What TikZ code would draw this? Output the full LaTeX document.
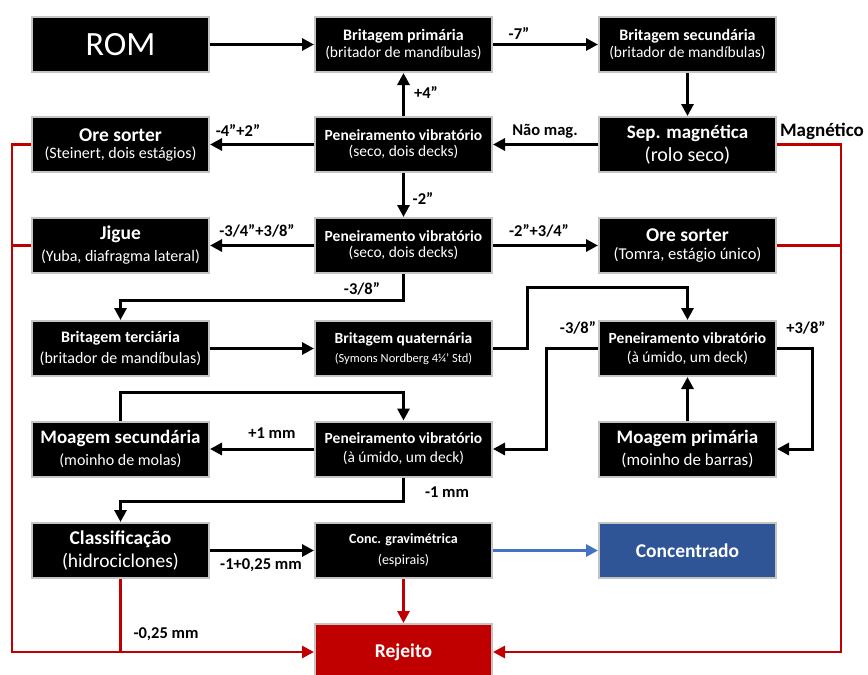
\documentclass[tikz,border=0pt]{standalone}
\usepackage{fontspec}
\setmainfont{Carlito}
\usetikzlibrary{arrows.meta}
\definecolor{boxgray}{HTML}{C4C4C4}
\definecolor{rejc}{HTML}{C00000}
\definecolor{concc}{HTML}{2F5597}
\definecolor{bluc}{HTML}{4472C4}
\newcommand{\ttl}[2]{\fontsize{#1}{#1}\selectfont\bfseries #2}
\newcommand{\sbt}[2]{\fontsize{#1}{#1}\selectfont\mdseries #2}
\begin{document}
\begin{tikzpicture}[x=1pt,y=-1pt,
 box/.style={draw=boxgray, line width=2pt, fill=black, text=white, minimum width=177pt, minimum height=55pt, inner sep=0pt, align=center},
 arr/.style={line width=3pt, -{Triangle[length=12pt,width=12pt]}},
 redarr/.style={draw=rejc, line width=2.8pt, -{Triangle[length=12pt,width=12pt]}},
 redln/.style={draw=rejc, line width=2.8pt},
 bluarr/.style={draw=bluc, line width=3pt, -{Triangle[length=12pt,width=12pt]}},
 lbl/.style={font=\fontsize{16.5}{18}\selectfont\bfseries, inner sep=0pt},
]
\useasboundingbox (0,0) rectangle (868,675);
\clip (0,0) rectangle (868,675);
% row 1
\node[box] (rom) at (120.5,44.5) {\fontsize{34}{36}\selectfont ROM};
\node[box] (b1) at (403.5,44.5) {\ttl{16}{Britagem primária}\\[2pt]\sbt{15.5}{(britador de mandíbulas)}};
\node[box] (b2) at (687.5,44.5) {\ttl{16}{Britagem secundária}\\[2pt]\sbt{15.5}{(britador de mandíbulas)}};
% row 2
\node[box] (ore1) at (120.5,144.5) {\ttl{19.5}{Ore sorter}\\[5pt]\sbt{16}{(Steinert, dois estágios)}};
\node[box] (pen1) at (403.5,144.5) {\ttl{15.5}{Peneiramento vibratório}\\[4pt]\sbt{15.5}{(seco, dois decks)}};
\node[box] (sep) at (687.5,144.5) {\ttl{19}{Sep. magnética}\\[4pt]\sbt{20}{(rolo seco)}};
% row 3
\node[box] (jig) at (120.5,245.5) {\ttl{19.5}{Jigue}\\[6pt]\sbt{16}{(Yuba, diafragma lateral)}};
\node[box] (pen2) at (403.5,245.5) {\ttl{15.5}{Peneiramento vibratório}\\[4pt]\sbt{15.5}{(seco, dois decks)}};
\node[box] (ore2) at (687.5,245.5) {\ttl{19.5}{Ore sorter}\\[5pt]\sbt{16.5}{(Tomra, estágio único)}};
% row 4
\node[box] (b3) at (120.5,348.5) {\ttl{16}{Britagem terciária}\\[6pt]\sbt{16}{(britador de mandíbulas)}};
\node[box] (b4) at (403.5,348.5) {\ttl{15.5}{Britagem quaternária}\\[7pt]\sbt{12.5}{(Symons Nordberg 4¼’ Std)}};
\node[box] (pen3) at (687.5,348.5) {\ttl{15.5}{Peneiramento vibratório}\\[7pt]\sbt{15.5}{(à úmido, um deck)}};
% row 5
\node[box] (moas) at (120.5,449) {\ttl{19}{Moagem secundária}\\[6pt]\sbt{16}{(moinho de molas)}};
\node[box] (pen4) at (403.5,449) {\ttl{15.5}{Peneiramento vibratório}\\[7pt]\sbt{15.5}{(à úmido, um deck)}};
\node[box] (moap) at (687.5,449) {\ttl{19}{Moagem primária}\\[6pt]\sbt{17}{(moinho de barras)}};
% row 6
\node[box] (cls) at (120.5,550.5) {\ttl{19.5}{Classificação}\\[5pt]\sbt{19.5}{(hidrociclones)}};
\node[box] (grav) at (403.5,550.5) {\ttl{14}{Conc. gravimétrica}\\[7pt]\sbt{14}{(espirais)}};
\node[box, fill=concc] (conc) at (687.5,550.5) {\ttl{19.5}{Concentrado}};
% row 7
\node[box, fill=rejc, minimum height=56pt] (rej) at (403.5,652) {\ttl{19.5}{Rejeito}};

% black connectors
\draw[arr] (rom) -- (b1);
\draw[arr] (b1) -- (b2);
\draw[arr] (b2) -- (sep);
\draw[arr] (sep) -- (pen1);
\draw[arr] (pen1) -- (b1);
\draw[arr] (pen1) -- (ore1);
\draw[arr] (pen1) -- (pen2);
\draw[arr] (pen2) -- (jig);
\draw[arr] (pen2) -- (ore2);
\draw[arr] (pen2.south) -- ++(0,26) -| (b3.north);
\draw[arr] (b3) -- (b4);
\draw[arr] (b4.east) -- ++(34,0) -- ++(0,-61.5) -| (pen3.north);
\draw[arr] (pen3.west) -- ++(-52,0) |- (pen4.east);
\draw[arr] (pen3.east) -- ++(35,0) |- (moap.east);
\draw[arr] (moap) -- (pen3);
\draw[arr] (pen4) -- (moas);
\draw[arr] (moas.north) -- ++(0,-28) -| (pen4.north);
\draw[arr] (pen4.south) -- ++(0,24) -| (cls.north);
\draw[arr] (cls) -- (grav);
\draw[bluarr] (grav) -- (conc);
% red connectors
\draw[redarr] (grav) -- (rej);
\draw[redarr] (ore1.west) -- ++(-19,0) |- (rej.west);
\draw[redln] (jig.west) -- ++(-19,0);
\draw[redln] (cls.south) -- (cls.south |- rej.west);
\draw[redarr] (sep.east) -- ++(64,0) |- (rej.east);
\draw[redln] (ore2.east) -- ++(64,0);

% labels
\node[lbl] (l1) at (519,33) {-7”};
\node[lbl] (l2) at (426,92) {+4”};
\node[lbl] (l3) at (238,130) {-4”+2”};
\node[lbl] (l4) at (545,131) {Não mag.};
\node[lbl, font=\fontsize{19}{20}\selectfont\bfseries] (l5) at (822,131) {Magnético};
\node[lbl] (l6) at (423,198) {-2”};
\node[lbl] (l7) at (257,231) {-3/4”+3/8”};
\node[lbl] (l8) at (539,231) {-2”+3/4”};
\node[lbl] (l9) at (362,289) {-3/8”};
\node[lbl] (l10) at (578,328) {-3/8”};
\node[lbl] (l11) at (806,328) {+3/8”};
\node[lbl] (l12) at (272,433) {+1 mm};
\node[lbl] (l13) at (447,492) {-1 mm};
\node[lbl] (l14) at (261,565) {-1+0,25 mm};
\node[lbl] (l15) at (166,634) {-0,25 mm};
\end{tikzpicture}
\end{document}
